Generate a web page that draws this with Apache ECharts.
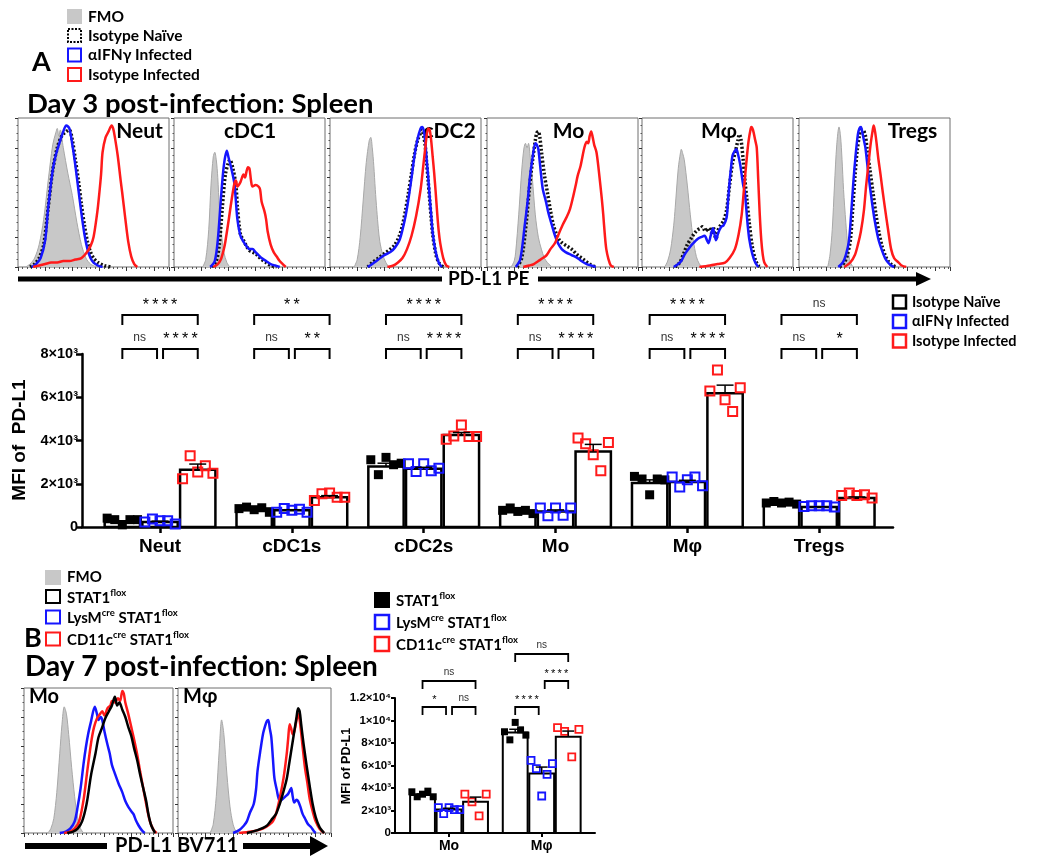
<!DOCTYPE html>
<html><head><meta charset="utf-8">
<script src="https://cdn.jsdelivr.net/npm/echarts@6/dist/echarts.min.js"></script>
<style>html,body{margin:0;padding:0;background:#fff}#c{width:1050px;height:865px}</style>
</head><body><div id="c"></div>
<script>
// ---------------- DATA ----------------
// Histograms (x: % of panel width along PD-L1 axis, y: % of panel height)
const neutFMO  = [[5,0],[8,2],[11,6],[14,15],[17,32],[20,58],[23,82],[25,90],[26,93],[27,88],[28,92],[30,80],[33,63],[36,48],[39,30],[42,15],[45,6],[48,2],[52,0]];
const neutIso  = [[8,0],[11,2],[14,6],[17,15],[20,40],[23,65],[26,80],[29,88],[32,91],[34,92],[36,85],[38,72],[40,58],[42,42],[44,28],[46,17],[48,10],[50,6],[53,3],[57,1],[62,0]];
const neutBlue = [[9,0],[12,2],[15,6],[18,18],[20,40],[23,65],[25,75],[28,85],[30,91],[32,95],[34,93],[36,82],[38,68],[40,52],[42,36],[44,22],[46,12],[48,6],[50,3],[53,1],[56,0]];
const neutRed  = [[10,0],[14,1],[18,2],[22,3],[26,3],[30,4],[34,4],[38,5],[42,6],[45,9],[48,14],[50,20],[52,33],[53,41],[55,62],[56,77],[58,87],[60,91],[62,95],[63,93],[64,88],[66,75],[68,58],[69,50],[71,33],[73,17],[75,7],[77,2],[79,0]];

const cdc1FMO  = [[19,0],[21,5],[23,25],[24.5,55],[26,74],[27,77],[28,72],[29,60],[30,40],[31.5,22],[33,10],[35,3],[37,0]];
const cdc1Iso  = [[25,0],[28,4],[30,15],[32,40],[34,62],[36,70],[37,72],[39,66],[41,55],[42,40],[44,22],[46,18],[48,14],[50,11],[52,10],[54,9],[56,7],[58,5],[61,3],[64,1],[68,0]];
const cdc1Blue = [[24,0],[27,4],[29,18],[31,45],[33,68],[35,78],[36,74],[38,66],[40,56],[41,44],[42,32],[44,21],[46,17],[48,14],[50,12],[52,12],[54,10],[56,8],[58,6],[61,4],[64,2],[67,1],[70,0]];
const cdc1Red  = [[26,0],[29,2],[31,5],[33,12],[34,17],[36,30],[38,44],[40,56],[41,58],[42,54],[44,57],[46,62],[47,60],[48,64],[49,67],[50,66],[51,58],[52,54],[54,55],[56,54],[57,52],[58,44],[60,37],[61,32],[62,24],[64,15],[66,10],[68,7],[70,4],[72,2],[74,0]];

const cdc2FMO  = [[16,0],[18,5],[20,20],[22,45],[24,70],[26,85],[27,87],[28,80],[29,68],[30,52],[31,38],[32,26],[33,17],[35,8],[37,3],[39,0]];
const cdc2Iso  = [[25,0],[28,3],[32,6],[36,9],[40,12],[43,15],[46,21],[48,28],[50,38],[52,50],[54,63],[56,76],[58,85],[60,90],[61,92],[62,88],[63,82],[64,70],[65,58],[66,45],[67,33],[68,22],[70,9],[72,3],[75,0]];
const cdc2Blue = [[25,0],[28,2],[32,5],[36,8],[40,10],[43,13],[46,18],[48,25],[50,34],[52,46],[54,60],[56,75],[58,86],[60,93],[61,94],[62,92],[63,85],[64,72],[65,61],[66,47],[67,35],[68,23],[70,10],[72,3],[74,0]];
const cdc2Red  = [[38,0],[42,1],[45,3],[48,6],[51,12],[54,21],[57,34],[60,52],[62,70],[63,79],[64,88],[65,93],[66,92],[67,85],[68,74],[69,63],[70,50],[71,36],[72,24],[73,16],[75,6],[77,1],[79,0]];

const moFMO    = [[16,0],[18,4],[19,10],[21,35],[23,65],[24.5,80],[25.5,83],[26.5,80],[27.5,83],[28.5,75],[30,60],[32,35],[34,20],[36,12],[38,6],[40,3],[43,0]];
const moIso    = [[20,0],[23,6],[26,30],[28,52],[30,70],[32,85],[33,90],[34,91],[35,87],[36,78],[38,62],[40,50],[42,38],[44,28],[46,22],[48,18],[50,16],[53,14],[56,12],[60,8],[64,5],[68,2],[72,0]];
const moBlue   = [[19,0],[22,5],[25,28],[27,45],[28.5,61],[30,72],[32,83],[33,82],[34,79],[35,70],[36,60],[37,52],[39,44],[40.5,37],[43,28],[45,21],[47,16],[49.5,12],[52,10],[56,8],[60,6],[62.5,4],[66,2],[69,1],[72,0]];
const moRed    = [[24,0],[28,1],[31,2],[34,4],[37,6],[39.5,8],[42,12],[45,16],[47,21],[50,28],[53,34],[55,39],[57,47],[59,56],[60,61],[62,68],[64,78],[65,82],[66,84],[67,83],[68,88],[69,91],[70,87],[71,82],[72.5,77],[74,65],[76,46],[77,35],[78,22],[79,12],[80.5,5],[82,1],[84,0]];

const mphFMO   = [[15,0],[17,4],[19,12],[21,28],[22,40],[24,66],[25.5,77],[26,79],[27,76],[28,72],[30,55],[32,35],[34,18],[36,7],[38,2],[40,0]];
const mphIso   = [[22,0],[25,3],[28,10],[30,15],[33,20],[35,23],[37,25],[39,26],[40,27],[42,24],[44,26],[46,23],[47,27],[49,19],[50.5,25],[52,28],[54,31],[56,38],[58,55],[60,70],[62,78],[63.5,85],[64.5,89],[65.5,86],[67,72],[68,60],[69.5,45],[71,30],[73,14],[75,5],[77,1],[79,0]];
const mphBlue  = [[21,0],[24,2],[26,4],[28,8],[30,11],[33,15],[35,17],[37,19],[39,20],[41.5,21],[43,18],[44,16],[45.5,21],[47,26],[48,22],[49,18],[50.5,23],[52.5,27],[54,28],[56,33],[57,45],[58,57],[59,67],[60,75],[61.5,78],[62.5,79],[63.5,76],[65,69],[66,62],[67,55],[68,51],[69,40],[70,28],[71,19],[73,9],[75,3],[77,0]];
const mphRed   = [[38,0],[45,1],[50,2],[55,3],[58,6],[61.5,12],[64,22],[66,35],[67.5,52],[69,69],[70.5,84],[72,93],[72.5,94],[73.5,92],[75,85],[76,80],[77,58],[78,35],[79,18],[80,8],[81,3],[83,0]];

const tregFMO  = [[19,0],[20.5,8],[22,25],[23.5,55],[25,82],[26.5,94],[27.5,88],[28.5,72],[29.5,52],[31,30],[32.5,12],[34,3],[36,0]];
const tregIso  = [[27,0],[30,3],[32,8],[34,18],[35.5,38],[37,60],[38.5,78],[40,88],[41,92],[42,92],[43,91],[44,88],[45,80],[47,65],[49,50],[51,35],[53,23],[55,14],[57,8],[59,4],[62,1],[65,0]];
const tregBlue = [[26,0],[29,3],[31,8],[33,17],[34.5,35],[36,57],[37.5,75],[39,89],[40,93],[41,94],[42,90],[43,85],[44,80],[46,62],[48,46],[50,32],[52.5,19],[55,11],[57,6],[59,3],[61,1],[63,0]];
const tregRed  = [[30,0],[34,3],[37,8],[39,15],[41,24],[43,38],[44.5,55],[46,69],[47.5,83],[49,93],[49.5,95],[50.5,90],[51.5,82],[52.5,73],[54,62],[55.5,50],[57,39],[59,25],[61,12],[63,6],[66,3],[68,1],[71,0]];

const bMoFMO   = [[16,0],[18,3],[20,10],[22,28],[24,55],[25.5,75],[27,87],[28.5,82],[30,68],[32,45],[34,25],[36,10],[38,3],[40,0]];
const bMoBlue  = [[24,0],[28,1],[31,3],[34,8],[36,18],[38,31],[40,48],[41.5,59],[43,68],[45,77],[47.5,87],[49,82],[50,78],[51.5,80],[52.5,78],[54,70],[56,61],[57.5,55],[59,47],[61,41],[63.5,34],[66,28],[68,22],[70,18],[72,15],[73.5,13],[75,9],[77,5],[79,2],[81,0]];
const bMoRed   = [[27,0],[31,1],[34,3],[37,8],[40,23],[42.5,43],[45,62],[47,73],[49,79],[51,82],[52.5,84],[54,81],[56,86],[58,88],[59,91],[61,90],[63,93],[64.5,91],[66,98],[67,96],[68,90],[70,82],[72,73],[74,64],[76,54],[78,42],[80,31],[82,20],[84.5,8],[87,2],[89,0]];
const bMoBlack = [[29,0],[33,1],[36,3],[39,8],[42,20],[45,40],[48,55],[50,66],[52.5,73],[54.5,79],[57,84],[59,88],[61,94],[62.5,88],[64,90],[66,85],[68,80],[70,73],[72,67],[74,58],[76,50],[78,40],[80,31],[82,22],[83.5,13],[85.5,5],[88,0]];

const bMphFMO   = [[21,0],[23,6],[25,25],[27,58],[28.5,78],[30,68],[32,40],[34,18],[36,6],[38,1],[40,0]];
const bMphBlue  = [[36,0],[40,2],[43,5],[45,8],[47,14],[49.5,20],[51,30],[52,43],[54,58],[55.5,68],[57,74],[58,77],[59,78],[60,72],[61,66],[62,52],[63,38],[64.5,30],[66.5,22],[68,23],[70,25],[72,27],[73,29],[74,31],[75,25],[76,21],[77.5,23],[78.5,22],[80,18],[81.5,13],[83,10],[85,6],[87,4],[89,1],[90,0]];
const bMphRed   = [[40,0],[48,1],[55.5,3],[60,6],[62,8],[64,13],[66.5,24],[69,38],[71,54],[72,65],[73,75],[74,72],[75,68],[76,70],[77.5,78],[78.5,82],[79.5,78],[81.5,59],[83,45],[84.5,35],[86,24],[88,15],[90,8],[92.5,3],[95.5,0]];
const bMphBlack = [[45,0],[52,2],[58,5],[61,9],[64,13],[66.5,20],[68.5,27],[71,37],[73,50],[74.5,60],[76,70],[77.5,80],[78.5,86],[79.5,84],[80.5,75],[82,62],[84,47],[86,33],[88,20],[90,11],[92.5,4],[95.5,0]];

const topPanelNames = ['Neut','cDC1','cDC2','Mo','Mφ','Tregs'];
const bottomPanelNames = ['Mo','Mφ'];

// Bar chart A (MFI of PD-L1, day 3)
const catsA = ['Neut','cDC1s','cDC2s','Mo','Mφ','Tregs'];
const groupsA = ['Isotype Naïve','αIFNγ Infected','Isotype Infected'];
const naiveMeanA = [230, 850, 2800, 680, 2030, 1150];
const ifngMeanA  = [230, 770, 2690, 720, 2080, 920];
const infMeanA   = [2650, 1380, 4260, 3490, 6180, 1340];
const naiveSemA  = [60, 40, 150, 40, 150, 25];
const ifngSemA   = [40, 30, 70, 70, 80, 15];
const infSemA    = [260, 70, 110, 330, 380, 50];
const naivePtsA = [[410,340,100,340,340],[850,920,800,890,680],[3110,2420,3220,2880,2950],[770,880,720,770,620],[2340,2220,1490,2220,2180],[1110,1180,1110,1150,1060]];
const ifngPtsA  = [[230,370,290,290,140],[680,850,770,820,680],[2920,2570,2920,2600,2720],[880,520,880,540,880],[2310,1850,2180,2310,1910],[950,980,980,980,920]];
const infPtsA   = [[2230,3290,2540,2830,2490],[1220,1540,1570,1380,1380],[4060,4210,4720,4180,4180],[4110,3850,3340,2600,3910],[6290,7260,5880,5340,6440],[1460,1570,1460,1490,1340]];
const sigNaiveIfngA = ['ns','ns','ns','ns','ns','ns'];
const sigIfngInfA   = ['****','**','****','****','****','*'];
const sigNaiveInfA  = ['****','**','****','****','****','ns'];
const yTicksA = [0, 2000, 4000, 6000, 8000];

// Bar chart B (MFI of PD-L1, day 7)
const catsB = ['Mo','Mφ'];
const stat1MeanB = [3370, 8930];
const lysmMeanB  = [2100, 5300];
const cd11cMeanB = [2770, 8560];
const stat1SemB  = [100, 290];
const lysmSemB   = [100, 560];
const cd11cSemB  = [420, 500];
const stat1PtsB = [[3660,3220,3450,3720,3220],[9000,8280,9830,9170,8700]];
const lysmPtsB  = [[2260,1730,2260,2080,2080],[6460,5720,3290,5220,6160]];
const cd11cPtsB = [[3450,2770,1520,3450],[9360,9040,6760,9220]];
// [category, from group, to group, bracket level, label]
const bracketsB = [[0,0,1,0,'*'],[0,1,2,0,'ns'],[0,0,2,1,'ns'],[1,0,1,0,'****'],[1,1,2,1,'****'],[1,0,2,2,'ns']];

// ---------------- STYLE / LAYOUT ----------------
const BLUE = '#1616ff', RED = '#ff1a1a', GRAY = '#c8c8c8';
const LATO = 'Lato, "Noto Sans", "DejaVu Sans", sans-serif';
const ARIAL = '"Liberation Sans", Arial, sans-serif';
const PITCH = 0.286, BW = 0.268;
const STAR = s => s === 'ns' ? 'ns' : s.split('').join('\u2009');

const option = {animation:false, backgroundColor:'#fff', grid:[], xAxis:[], yAxis:[], series:[], graphic:{elements:[]}};
const G = option.graphic.elements;

function addHistGrid(left, top, w, h) {
  const idx = option.grid.length;
  option.grid.push({left, top, width:w, height:h, show:true, borderColor:'#6e6e6e', borderWidth:1});
  option.xAxis.push({gridIndex:idx, type:'value', min:0, max:100, interval:18,
    axisLine:{show:false, onZero:false}, axisLabel:{show:false}, splitLine:{show:false},
    axisTick:{show:true, length:4, lineStyle:{color:'#333', width:1}},
    minorTick:{show:true, splitNumber:6, length:2, lineStyle:{color:'#555', width:1}}});
  option.yAxis.push({gridIndex:idx, type:'value', min:0, max:100, interval:20,
    axisLine:{show:false, onZero:false}, axisLabel:{show:false}, splitLine:{show:false},
    axisTick:{show:true, length:3, lineStyle:{color:'#333', width:1}},
    minorTick:{show:true, splitNumber:4, length:1.5, lineStyle:{color:'#555', width:1}}});
  return idx;
}
function histLine(idx, data, color, width, type, area, z) {
  const s = {type:'line', xAxisIndex:idx, yAxisIndex:idx, data, showSymbol:false, symbol:'none', smooth:0.3, silent:true, z,
    lineStyle:{color, width, type: type || 'solid'}};
  if (area) s.areaStyle = {color:GRAY, opacity:1};
  option.series.push(s);
}
function txt(text, x, y, font, opts) {
  G.push({type:'text', x, y, silent:true, style:Object.assign({text, font, fill:'#000', align:'left', textAlign:'left', verticalAlign:'middle', textVerticalAlign:'middle'}, (opts||{}))});
}
function rect(x, y, w, h, style) { G.push({type:'rect', silent:true, shape:{x, y, width:w, height:h}, style}); }

// ---- Top histograms ----
const topSets = [[neutFMO,neutIso,neutBlue,neutRed],[cdc1FMO,cdc1Iso,cdc1Blue,cdc1Red],[cdc2FMO,cdc2Iso,cdc2Blue,cdc2Red],
                 [moFMO,moIso,moBlue,moRed],[mphFMO,mphIso,mphBlue,mphRed],[tregFMO,tregIso,tregBlue,tregRed]];
const topLefts = [18,174,330,487,642,799];
topSets.forEach((set, i) => {
  const idx = addHistGrid(topLefts[i], 118, 151, 149);
  histLine(idx, set[0], '#a8a8a8', 1, 'solid', true, 1);
  histLine(idx, set[1], '#111', 3.5, [2,2], false, 2);
  histLine(idx, set[2], BLUE, 2.5, 'solid', false, 3);
  histLine(idx, set[3], RED, 2.5, 'solid', false, 4);
});
const topLabelX = [139.5, 250, 449.5, 568.5, 719, 912.5];
topPanelNames.forEach((n, i) => txt(n, topLabelX[i], 131, 'bold 21px ' + LATO, {align:'center', textAlign:'center'}));

// ---- Bottom histograms ----
const botSets = [[bMoFMO,bMoBlue,bMoRed,bMoBlack],[bMphFMO,bMphBlue,bMphRed,bMphBlack]];
const botLefts = [24, 178], botWidths = [149, 153];
botSets.forEach((set, i) => {
  const idx = addHistGrid(botLefts[i], 688, botWidths[i], 145);
  histLine(idx, set[0], '#a8a8a8', 1, 'solid', true, 1);
  histLine(idx, set[1], BLUE, 2.5, 'solid', false, 2);
  histLine(idx, set[2], RED, 2.5, 'solid', false, 3);
  histLine(idx, set[3], '#000', 2.5, 'solid', false, 4);
});
bottomPanelNames.forEach((n, i) => txt(n, botLefts[i] + 5, 697, 'bold 20px ' + LATO));

// ---- Bar chart helpers ----
function xOf(cat, g) { return cat + (g - 1) * PITCH; }
function addBarGrid(left, top, width, height, xmin, xmax, ymax, interval, cats, yFmt, opt) {
  const idx = option.grid.length;
  option.grid.push({left, top, width, height});
  const ticks = cats.map((c, i) => i);
  option.xAxis.push({gridIndex:idx, type:'value', min:xmin, max:xmax,
    axisLine:{show:true, onZero:false, lineStyle:{color:'#000', width:opt.lw}}, splitLine:{show:false},
    axisTick:{show:true, customValues:ticks, length:opt.tick, lineStyle:{color:'#000', width:opt.lw}},
    axisLabel:{show:true, customValues:ticks, formatter:v => cats[Math.round(v)], margin:opt.xMargin, fontFamily:ARIAL, fontWeight:'bold', fontSize:opt.xFont, color:'#000'}});
  option.yAxis.push({gridIndex:idx, type:'value', min:0, max:ymax, interval,
    axisLine:{show:true, onZero:false, lineStyle:{color:'#000', width:opt.lw}}, splitLine:{show:false},
    axisTick:{show:true, length:opt.tick, lineStyle:{color:'#000', width:opt.lw}},
    axisLabel:{show:true, formatter:yFmt, margin:4, fontFamily:ARIAL, fontWeight:'bold', fontSize:opt.yFont, color:'#000'}});
  return idx;
}
function addBars(idx, means, sems, pts, opt) {
  const barData = [], errData = [], ptData = [];
  means.forEach((arr, g) => arr.forEach((m, c) => { barData.push([c, g, m]); errData.push([c, g, m, sems[g][c]]); }));
  pts.forEach((arr, g) => arr.forEach((vals, c) => vals.forEach((v, k) => ptData.push([c, g, v, k, vals.length]))));
  option.series.push({type:'custom', xAxisIndex:idx, yAxisIndex:idx, data:barData, silent:true, z:2,
    renderItem:(p, api) => {
      const x = xOf(api.value(0), api.value(1));
      const t = api.coord([x, api.value(2)]), b = api.coord([x, 0]);
      const w = api.size([BW, 0])[0];
      return {type:'rect', shape:{x:t[0]-w/2, y:t[1], width:w, height:b[1]-t[1]}, style:{fill:'#fff', stroke:'#000', lineWidth:opt.barLw}};
    }});
  option.series.push({type:'custom', xAxisIndex:idx, yAxisIndex:idx, data:ptData, silent:true, z:3,
    renderItem:(p, api) => {
      const g = api.value(1), k = api.value(3), n = api.value(4);
      const c = api.coord([xOf(api.value(0), g), api.value(2)]);
      const w = api.size([BW, 0])[0];
      const dx = n > 1 ? (k / (n - 1) - 0.5) * w * 0.86 : 0;
      const s = opt.sym;
      const style = g === 0 ? {fill:'#000'} : {fill:'none', stroke: g === 1 ? BLUE : RED, lineWidth:opt.symLw};
      return {type:'rect', shape:{x:c[0]+dx-s/2, y:c[1]-s/2, width:s, height:s}, style};
    }});
  option.series.push({type:'custom', xAxisIndex:idx, yAxisIndex:idx, data:errData, silent:true, z:4,
    renderItem:(p, api) => {
      const x = xOf(api.value(0), api.value(1));
      const a = api.coord([x, api.value(2)]), b = api.coord([x, api.value(2) + api.value(3)]);
      const cw = api.size([BW, 0])[0] * 0.24;
      return {type:'group', children:[
        {type:'line', shape:{x1:a[0], y1:a[1], x2:b[0], y2:b[1]}, style:{stroke:'#000', lineWidth:1.5}},
        {type:'line', shape:{x1:b[0]-cw, y1:b[1], x2:b[0]+cw, y2:b[1]}, style:{stroke:'#000', lineWidth:1.5}}]};
    }});
}
function addBrackets(idx, list, ymax, opt) {
  option.series.push({type:'custom', xAxisIndex:idx, yAxisIndex:idx, data:list.map(b => [b[0], b[1], b[2], b[3]]), silent:true, z:5,
    renderItem:(p, api) => {
      const cat = api.value(0), g1 = api.value(1), g2 = api.value(2), lvl = api.value(3);
      const label = list[p.dataIndex][4];
      const top = api.coord([0, ymax])[1] + opt.levels[lvl];
      let x1 = api.coord([xOf(cat, g1), 0])[0], x2 = api.coord([xOf(cat, g2), 0])[0];
      if (g1 === 1) x1 += opt.gap; if (g2 === 1) x2 -= opt.gap;
      const ns = label === 'ns';
      return {type:'group', children:[
        {type:'polyline', shape:{points:[[x1, top+opt.leg],[x1, top],[x2, top],[x2, top+opt.leg]]}, style:{stroke:'#000', lineWidth:opt.lw, fill:null}},
        {type:'text', x:(x1+x2)/2, y:top - (ns ? opt.nsOff : opt.starOff), style:{text:STAR(label), fill: ns ? '#333' : '#000',
          font: ns ? opt.nsFont : opt.starFont, align:'center', textAlign:'center', verticalAlign:'middle', textVerticalAlign:'middle'}}]};
    }});
}

// ---- Bar chart A ----
const fmtA = v => v === 0 ? '0' : (v / 1000) + '×10³';
const idxA = addBarGrid(82, 354, 811, 173, -0.592, 5.56, yTicksA[yTicksA.length-1], yTicksA[1], catsA, fmtA,
  {lw:2.5, tick:6, xMargin:10, xFont:19, yFont:14.5});
addBars(idxA, [naiveMeanA, ifngMeanA, infMeanA], [naiveSemA, ifngSemA, infSemA], [naivePtsA, ifngPtsA, infPtsA], {barLw:2.5, sym:9, symLw:2});
const bracketsA = [];
catsA.forEach((c, i) => {
  bracketsA.push([i, 0, 1, 0, sigNaiveIfngA[i]]);
  bracketsA.push([i, 1, 2, 0, sigIfngInfA[i]]);
  bracketsA.push([i, 0, 2, 1, sigNaiveInfA[i]]);
});
addBrackets(idxA, bracketsA, 8000, {levels:[-5, -39], leg:10, gap:3, lw:2, starOff:9, nsOff:11,
  starFont:'16px ' + ARIAL, nsFont:'12px ' + ARIAL});

// ---- Bar chart B ----
const fmtB = v => v === 0 ? '0' : (v >= 10000 ? (v / 10000) + '×10⁴' : (v / 1000) + '×10³');
const idxB = addBarGrid(395, 698, 200, 135, -0.583, 1.575, 12000, 2000, catsB, fmtB,
  {lw:2, tick:4, xMargin:6, xFont:14, yFont:11.5});
addBars(idxB, [stat1MeanB, lysmMeanB, cd11cMeanB], [stat1SemB, lysmSemB, cd11cSemB], [stat1PtsB, lysmPtsB, cd11cPtsB], {barLw:2, sym:7, symLw:1.8});
addBrackets(idxB, bracketsB, 12000, {levels:[9, -17, -44], leg:8, gap:3, lw:1.8, starOff:7, nsOff:9,
  starFont:'11px ' + ARIAL, nsFont:'10px ' + ARIAL});

// ---- Texts, legends, arrows ----
// Legend A (histograms)
rect(67, 9, 15, 15, {fill:GRAY});
rect(68, 29, 13, 13, {fill:'none', stroke:'#000', lineWidth:2, lineDash:[2,1.5]});
rect(68, 48.5, 13, 13, {fill:'none', stroke:BLUE, lineWidth:2});
rect(68, 68, 13, 13, {fill:'none', stroke:RED, lineWidth:2});
const legA = ['FMO','Isotype Naïve','αIFNγ Infected','Isotype Infected'];
[17, 36, 55, 75].forEach((y, i) => txt(legA[i], 88, y, 'bold 15.5px ' + LATO));
txt('A', 32, 62, 'bold 27px ' + LATO);
txt('Day 3 post-infection: Spleen', 27, 104, 'bold 27.5px ' + LATO);

// Top arrow
rect(18, 276.5, 424, 5, {fill:'#000'});
txt('PD-L1 PE', 448, 279, 'bold 19px ' + LATO);
rect(538, 276.5, 380, 5, {fill:'#000'});
G.push({type:'polygon', silent:true, shape:{points:[[916,272],[931,279],[916,286]]}, style:{fill:'#000'}});

// Legend for bar chart A
rect(893, 295.5, 13, 13, {fill:'none', stroke:'#000', lineWidth:2.5});
rect(893, 315, 13, 13, {fill:'none', stroke:BLUE, lineWidth:2.5});
rect(893, 334.5, 13, 13, {fill:'none', stroke:RED, lineWidth:2.5});
groupsA.forEach((g, i) => txt(g, 912, 302 + i * 19.5, 'bold 14.5px ' + LATO));
txt('MFI of  PD-L1', 20, 440, 'bold 19px ' + ARIAL, {align:'center', textAlign:'center'});
G[G.length-1].rotation = Math.PI / 2;

// Legend B (histograms)
const richB = {a:{fontFamily:LATO, fontWeight:'bold', fontSize:15, lineHeight:18, verticalAlign:'bottom', fill:'#000', color:'#000'},
               s:{fontFamily:LATO, fontWeight:'bold', fontSize:9.5, lineHeight:18, verticalAlign:'top', fill:'#000', color:'#000'}};
const legBtext = ['{a|STAT1}{s|flox}', '{a|LysM}{s|cre}{a| STAT1}{s|flox}', '{a|CD11c}{s|cre}{a| STAT1}{s|flox}'];
rect(45, 570, 16, 15, {fill:GRAY});
rect(46, 590, 14, 13, {fill:'none', stroke:'#000', lineWidth:2});
rect(46, 610.5, 14, 13, {fill:'none', stroke:BLUE, lineWidth:2});
rect(46, 632.5, 14, 13, {fill:'none', stroke:RED, lineWidth:2});
txt('FMO', 67, 577, 'bold 15px ' + LATO);
[597, 617, 639].forEach((y, i) => txt(legBtext[i], 67, y, 'bold 15px ' + LATO, {rich:richB}));
txt('B', 24, 638, 'bold 27px ' + LATO);
txt('Day 7 post-infection: Spleen', 25, 667, 'bold 28px ' + LATO);

// Bottom arrow
rect(25, 843, 82, 6, {fill:'#000'});
txt('PD-L1 BV711', 115, 846, 'bold 20px ' + LATO);
rect(243, 843, 68, 6, {fill:'#000'});
G.push({type:'polygon', silent:true, shape:{points:[[310,836],[328,846],[310,856]]}, style:{fill:'#000'}});

// Legend for bar chart B
rect(374, 592, 16, 16, {fill:'#000'});
rect(375, 615, 14, 14, {fill:'none', stroke:BLUE, lineWidth:2.5});
rect(375, 637, 14, 14, {fill:'none', stroke:RED, lineWidth:2.5});
[600, 622, 644].forEach((y, i) => txt(legBtext[i], 396, y, 'bold 15px ' + LATO, {rich:richB}));
txt('MFI of PD-L1', 347, 766, 'bold 12.5px ' + ARIAL, {align:'center', textAlign:'center'});
G[G.length-1].rotation = Math.PI / 2;

const chart = echarts.init(document.getElementById('c'), null, {renderer:'canvas'});
chart.setOption(option);
</script></body></html>
